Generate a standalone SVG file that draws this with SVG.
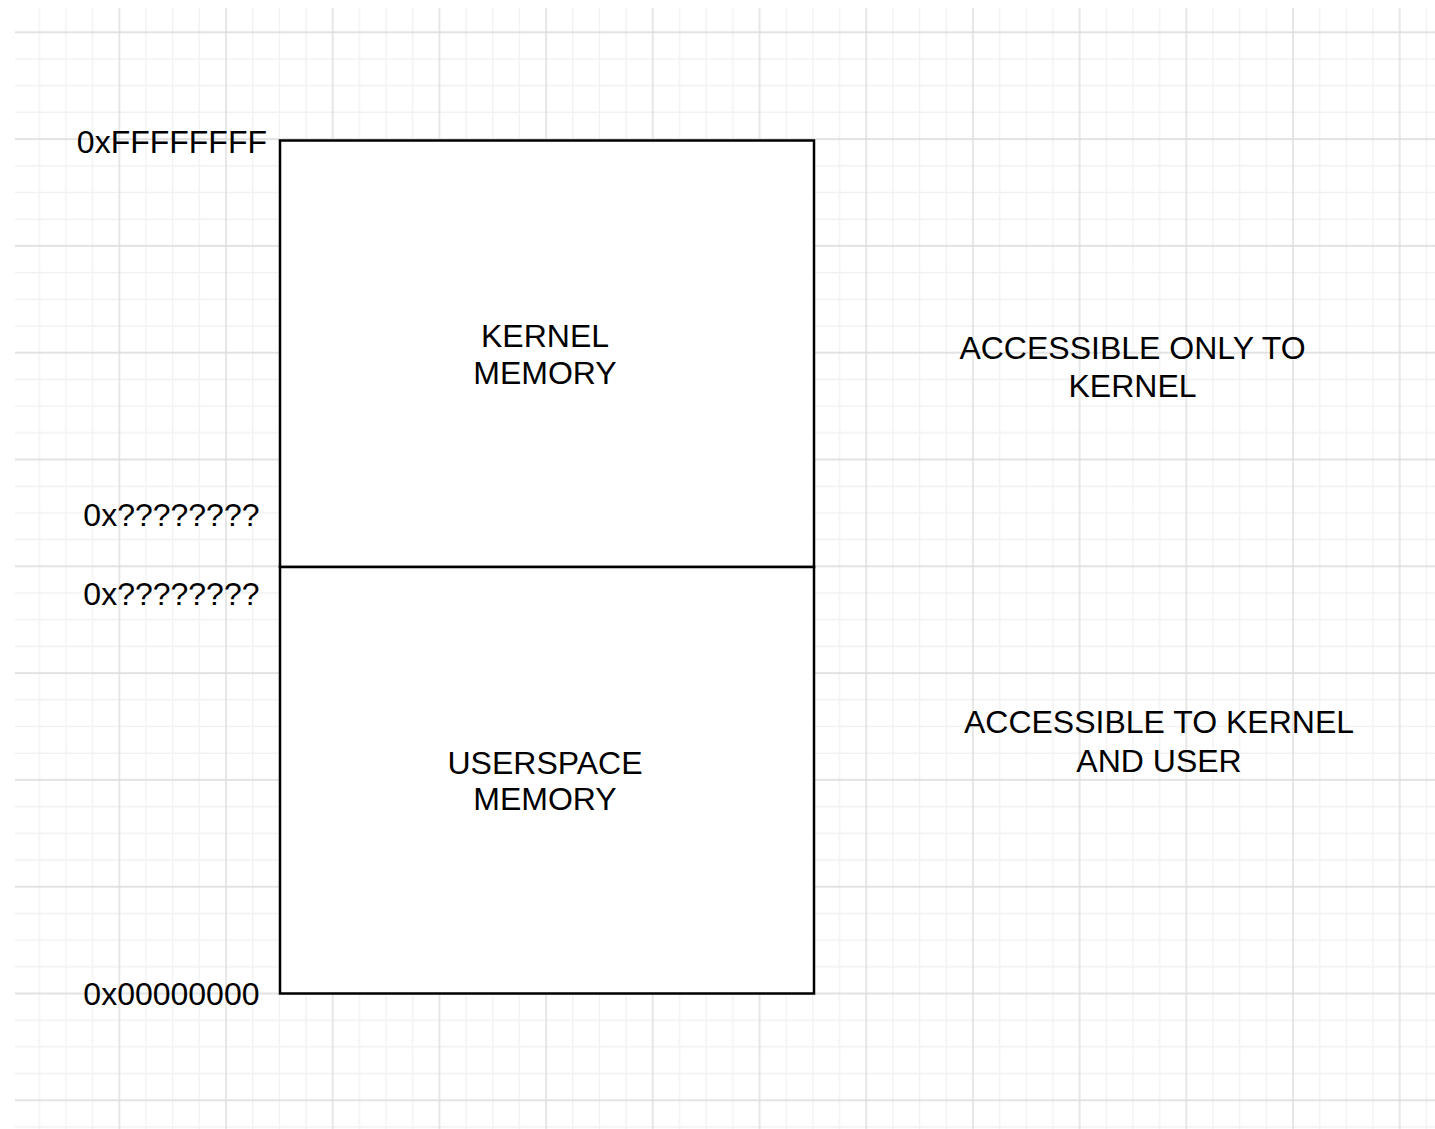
<svg xmlns="http://www.w3.org/2000/svg" width="1435" height="1129" viewBox="0 0 1435 1129">
  <style>
    .lbl { font-family: "Liberation Sans", Arial, Helvetica, sans-serif; font-size: 32px; fill: #000000; }
    .mid { text-anchor: middle; }
    .end { text-anchor: end; }
    .box { fill: #ffffff; stroke: #000000; stroke-width: 2.5; }
    .minor { stroke: #f1f1f1; stroke-width: 1.3; }
    .major { stroke: #dadada; stroke-width: 1.3; }
  </style>
  <defs>
    <pattern id="gridpat" patternUnits="userSpaceOnUse" x="12.6" y="-74.5" width="106.7" height="106.8">
      <line class="minor" x1="26.675" y1="0" x2="26.675" y2="106.8"/>
      <line class="minor" x1="53.35" y1="0" x2="53.35" y2="106.8"/>
      <line class="minor" x1="80.025" y1="0" x2="80.025" y2="106.8"/>
      <line class="minor" x1="0" y1="26.7" x2="106.7" y2="26.7"/>
      <line class="minor" x1="0" y1="53.4" x2="106.7" y2="53.4"/>
      <line class="minor" x1="0" y1="80.1" x2="106.7" y2="80.1"/>
      <line class="major" x1="0" y1="0" x2="0" y2="106.8"/>
      <line class="major" x1="106.7" y1="0" x2="106.7" y2="106.8"/>
      <line class="major" x1="0" y1="0" x2="106.7" y2="0"/>
      <line class="major" x1="0" y1="106.8" x2="106.7" y2="106.8"/>
    </pattern>
  </defs>
  <rect x="0" y="0" width="1435" height="1129" fill="#ffffff"/>
  <g id="grid">
    <rect x="15" y="8" width="1420" height="1121" fill="url(#gridpat)"/>
  </g>
  <g id="connectors"></g>
  <g id="kernel-memory">
    <rect class="box" x="280" y="140.5" width="534" height="426.5"/>
    <text class="lbl mid" x="545" y="346.5">KERNEL</text>
    <text class="lbl mid" x="545" y="383.5">MEMORY</text>
  </g>
  <g id="userspace-memory">
    <rect class="box" x="280" y="567" width="534" height="426.5"/>
    <text class="lbl mid" x="545" y="773.5">USERSPACE</text>
    <text class="lbl mid" x="545" y="810">MEMORY</text>
  </g>
  <g id="addr-top">
    <text class="lbl end" x="267" y="152.5">0xFFFFFFFF</text>
  </g>
  <g id="addr-kernel-start">
    <text class="lbl end" x="259.5" y="525.7">0x????????</text>
  </g>
  <g id="addr-user-end">
    <text class="lbl end" x="259.5" y="605">0x????????</text>
  </g>
  <g id="addr-bottom">
    <text class="lbl end" x="259.5" y="1005">0x00000000</text>
  </g>
  <g id="kernel-access">
    <text class="lbl mid" x="1132.5" y="359.3">ACCESSIBLE ONLY TO</text>
    <text class="lbl mid" x="1132.5" y="396.7">KERNEL</text>
  </g>
  <g id="user-access">
    <text class="lbl mid" x="1159" y="733.3">ACCESSIBLE TO KERNEL</text>
    <text class="lbl mid" x="1159" y="771.7">AND USER</text>
  </g>
</svg>
